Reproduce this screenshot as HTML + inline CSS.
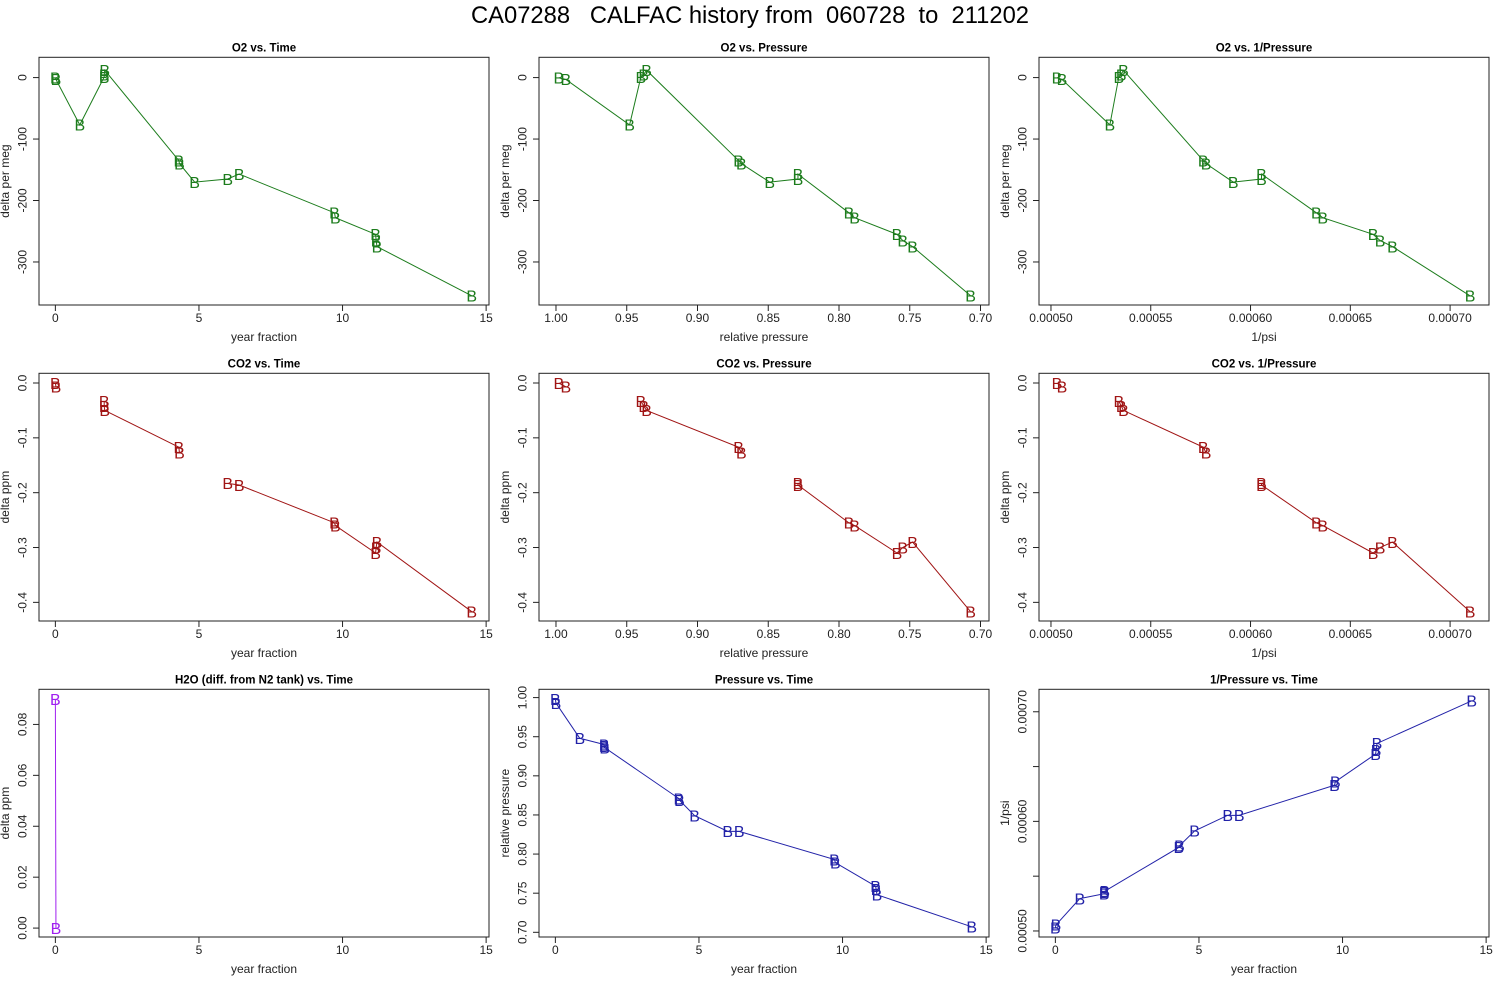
<!DOCTYPE html>
<html><head><meta charset="utf-8">
<style>
html,body{margin:0;padding:0;background:#fff;}
svg{display:block;font-family:"Liberation Sans",Arial,sans-serif;}
</style></head>
<body>
<svg id="chart" width="1500" height="1000" viewBox="0 0 1500 1000" xmlns="http://www.w3.org/2000/svg">
<rect x="0" y="0" width="1500" height="1000" fill="#fff"/>
<text x="750" y="23" text-anchor="middle" font-size="24" textLength="558" lengthAdjust="spacingAndGlyphs" style="white-space:pre" xml:space="preserve">CA07288   CALFAC history from  060728  to  211202</text>
</svg>
<script>
// ---- data (one entry per sample) ----
const years = [0, 0.02, 0.85, 1.70, 1.70, 1.72, 4.30, 4.32, 4.85, 6.00, 6.40, 9.72, 9.75, 11.15, 11.17, 11.20, 14.50];
const relPressure = [0.998, 0.993, 0.948, 0.940, 0.938, 0.936, 0.871, 0.869, 0.849, 0.829, 0.829, 0.793, 0.789, 0.759, 0.755, 0.748, 0.707];
const invPsi = [0.000503, 0.0005055, 0.0005295, 0.000534, 0.0005352, 0.0005363, 0.0005763, 0.0005777, 0.0005913, 0.0006055, 0.0006055, 0.000633, 0.0006362, 0.0006614, 0.0006649, 0.0006711, 0.00071];
const o2Delta = [0, -3, -77, 1, 5, 12, -135, -140, -170, -165, -157, -220, -228, -255, -265, -275, -355];
const co2Delta = [0, -0.007, null, -0.033, -0.042, -0.05, -0.117, -0.127, null, -0.183, -0.186, -0.255, -0.26, -0.31, -0.30, -0.29, -0.417];
const h2oDelta = [0.09, 0.0, null, null, null, null, null, null, null, null, null, null, null, null, null, null, null];
// ---- tick values / labels ----
const timeTicks = [0, 5, 10, 15];
const timeTickLabels = ["0", "5", "10", "15"];
const presTicks = [1.00, 0.95, 0.90, 0.85, 0.80, 0.75, 0.70];
const presTickLabels = ["1.00", "0.95", "0.90", "0.85", "0.80", "0.75", "0.70"];
const invTicks = [0.0005, 0.00055, 0.0006, 0.00065, 0.0007];
const invTickLabels = ["0.00050", "0.00055", "0.00060", "0.00065", "0.00070"];
const invTimeTickLabels = ["0.00050", "", "0.00060", "", "0.00070"];
const o2Ticks = [0, -100, -200, -300];
const o2TickLabels = ["0", "-100", "-200", "-300"];
const co2Ticks = [0, -0.1, -0.2, -0.3, -0.4];
const co2TickLabels = ["0.0", "-0.1", "-0.2", "-0.3", "-0.4"];
const h2oTicks = [0, 0.02, 0.04, 0.06, 0.08];
const h2oTickLabels = ["0.00", "0.02", "0.04", "0.06", "0.08"];

const NS = "http://www.w3.org/2000/svg";
const svg = document.getElementById("chart");
const colX = [39, 539, 1039], rowY = [57.3, 373.3, 689.3];
const PW = 450, PH = 247.7;
const GREEN = "#1c7c1c", RED = "#a01414", BLUE = "#2222a8", PURPLE = "#a020f0";

function mk(tag, attrs, parent) {
  const e = document.createElementNS(NS, tag);
  for (const k in attrs) e.setAttribute(k, attrs[k]);
  (parent || svg).appendChild(e);
  return e;
}
function scale(d0, d1, r0, r1) { return v => r0 + (v - d0) / (d1 - d0) * (r1 - r0); }

function panel(p) {
  const x0 = colX[p.col], y0 = rowY[p.row];
  const g = mk("g", {});
  
  
  const sx = scale(p.xd[0], p.xd[1], x0, x0 + PW);
  const sy = scale(p.yd[0], p.yd[1], y0 + PH, y0);
  // title
  const t = mk("text", {x: x0 + PW / 2, y: y0 - 6, "text-anchor": "middle", "font-size": 11.5, "font-weight": "bold"}, g);
  t.textContent = p.title;
  
  
  // series line (break on null)
  let d = "", pen = false;
  for (let i = 0; i < p.xs.length; i++) {
    const xv = p.xs[i], yv = p.ys[i];
    if (xv == null || yv == null) { pen = false; continue; }
    d += (pen ? "L" : "M") + sx(xv).toFixed(2) + " " + sy(yv).toFixed(2);
    pen = true;
  }
  const line = mk("path", {d: d, fill: "none", stroke: p.color, "stroke-width": 1}, g);
  
  
  // points as "B"
  for (let i = 0; i < p.xs.length; i++) {
    const xv = p.xs[i], yv = p.ys[i];
    if (xv == null || yv == null) continue;
    const m = mk("text", {x: sx(xv), y: sy(yv) + 5.8, "text-anchor": "middle", "font-size": 16, fill: p.color}, g);
    m.textContent = "B";
    
    
  }
  // box
  const box = mk("rect", {x: x0, y: y0, width: PW, height: PH, fill: "none", stroke: "#222", "stroke-width": 1}, g);
  
  
  // x ticks
  const xb = y0 + PH;
  p.xt.forEach((v, i) => {
    const X = sx(v);
    mk("line", {x1: X, x2: X, y1: xb, y2: xb + 6, stroke: "#222"}, g);
    const tl = mk("text", {x: X, y: xb + 17, "text-anchor": "middle", "font-size": 12, fill: "#222"}, g);
    tl.textContent = p.xl[i];
    
    
  });
  const xt = mk("text", {x: x0 + PW / 2, y: xb + 36, "text-anchor": "middle", "font-size": 12, fill: "#222"}, g);
  xt.textContent = p.xtitle;
  
  
  // y ticks
  p.yt.forEach((v, i) => {
    const Y = sy(v);
    mk("line", {x1: x0 - 6, x2: x0, y1: Y, y2: Y, stroke: "#222"}, g);
    if (!p.yl[i]) return;
    const tx = x0 - 12.5;
    const tl = mk("text", {x: tx, y: Y, "text-anchor": "middle", "font-size": 12, fill: "#222", transform: "rotate(-90 " + tx + " " + Y + ")"}, g);
    tl.textContent = p.yl[i];
    
    
  });
  const yx = x0 - 30, yy = y0 + PH / 2;
  const yt = mk("text", {x: yx, y: yy, "text-anchor": "middle", "font-size": 12, fill: "#222", transform: "rotate(-90 " + yx + " " + yy + ")"}, g);
  yt.textContent = p.ytitle;
  
  
}

const TD = [-0.57, 15.1], PD = [1.012, 0.694], ID = [0.000494, 0.0007195];
const O2D = [-370, 33], CO2D = [-0.434, 0.0177], H2OD = [-0.0035, 0.0938], PYD = [0.694, 1.0106], IYD = [0.0004945, 0.0007205];

panel({name: "o2-vs-time-panel", col: 0, row: 0, title: "O2 vs. Time", xs: years, ys: o2Delta, xd: TD, yd: O2D, xt: timeTicks, xl: timeTickLabels, yt: o2Ticks, yl: o2TickLabels, xtitle: "year fraction", ytitle: "delta per meg", color: GREEN});
panel({name: "o2-vs-pressure-panel", col: 1, row: 0, title: "O2 vs. Pressure", xs: relPressure, ys: o2Delta, xd: PD, yd: O2D, xt: presTicks, xl: presTickLabels, yt: o2Ticks, yl: o2TickLabels, xtitle: "relative pressure", ytitle: "delta per meg", color: GREEN});
panel({name: "o2-vs-inverse-pressure-panel", col: 2, row: 0, title: "O2 vs. 1/Pressure", xs: invPsi, ys: o2Delta, xd: ID, yd: O2D, xt: invTicks, xl: invTickLabels, yt: o2Ticks, yl: o2TickLabels, xtitle: "1/psi", ytitle: "delta per meg", color: GREEN});
panel({name: "co2-vs-time-panel", col: 0, row: 1, title: "CO2 vs. Time", xs: years, ys: co2Delta, xd: TD, yd: CO2D, xt: timeTicks, xl: timeTickLabels, yt: co2Ticks, yl: co2TickLabels, xtitle: "year fraction", ytitle: "delta ppm", color: RED});
panel({name: "co2-vs-pressure-panel", col: 1, row: 1, title: "CO2 vs. Pressure", xs: relPressure, ys: co2Delta, xd: PD, yd: CO2D, xt: presTicks, xl: presTickLabels, yt: co2Ticks, yl: co2TickLabels, xtitle: "relative pressure", ytitle: "delta ppm", color: RED});
panel({name: "co2-vs-inverse-pressure-panel", col: 2, row: 1, title: "CO2 vs. 1/Pressure", xs: invPsi, ys: co2Delta, xd: ID, yd: CO2D, xt: invTicks, xl: invTickLabels, yt: co2Ticks, yl: co2TickLabels, xtitle: "1/psi", ytitle: "delta ppm", color: RED});
panel({name: "h2o-vs-time-panel", col: 0, row: 2, title: "H2O (diff. from N2 tank) vs. Time", xs: years, ys: h2oDelta, xd: TD, yd: H2OD, xt: timeTicks, xl: timeTickLabels, yt: h2oTicks, yl: h2oTickLabels, xtitle: "year fraction", ytitle: "delta ppm", color: PURPLE});
panel({name: "pressure-vs-time-panel", col: 1, row: 2, title: "Pressure vs. Time", xs: years, ys: relPressure, xd: TD, yd: PYD, xt: timeTicks, xl: timeTickLabels, yt: presTicks, yl: presTickLabels, xtitle: "year fraction", ytitle: "relative pressure", color: BLUE});
panel({name: "inverse-pressure-vs-time-panel", col: 2, row: 2, title: "1/Pressure vs. Time", xs: years, ys: invPsi, xd: TD, yd: IYD, xt: timeTicks, xl: timeTickLabels, yt: invTicks, yl: invTimeTickLabels, xtitle: "year fraction", ytitle: "1/psi", color: BLUE});
</script>
</body></html>
